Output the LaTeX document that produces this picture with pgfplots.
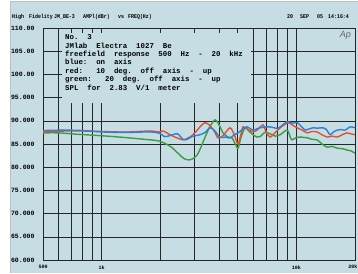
\documentclass[border=0pt]{standalone}
\usepackage{pgfplots}
\pgfplotsset{compat=1.18}
\usepackage{fontspec}
\setmainfont{Liberation Sans}
\newfontfamily\apmono{Liberation Mono}
\newfontfamily\apnarrow[FakeStretch=0.85]{Liberation Mono}
\definecolor{panel}{RGB}{198,221,228}
\definecolor{cblue}{RGB}{45,128,210}
\definecolor{cred}{RGB}{232,78,48}
\definecolor{cgreen}{RGB}{58,158,68}
\begin{document}
\begin{tikzpicture}[x=1pt,y=1pt]
\useasboundingbox (0,0) rectangle (358,273);
\fill[white] (0,0) rectangle (358,273);
\fill[panel] (10,0) rectangle (358,272);
\draw[black!25, line width=0.4pt] (10,0) -- (10,272) -- (358,272);
\begin{axis}[
  at={(43pt,13pt)}, anchor=south west,
  scale only axis, width=312pt, height=232pt,
  xmode=log, xmin=500, xmax=20000, ymin=60, ymax=110,
  ytick={60,65,70,75,80,85,90,95,100,105,110},
  yticklabels={60.000,65.000,70.000,75.000,80.000,85.000,90.000,95.000,100.00,105.00,110.00},
  xtick={600,700,800,900,1000,2000,3000,4000,5000,6000,7000,8000,9000,10000},
  xticklabels={,,,,1k,,,,,,,,,10k},
  extra x ticks={500},
  extra x tick labels={500},
  extra x tick style={grid=none},
  minor xtick={},
  grid=major,
  major grid style={black!85, line width=0.55pt},
  axis line style={black!85, line width=0.6pt},
  tick style={draw=none},
  yticklabel style={font=\apmono\bfseries\fontsize{6.5}{7}\selectfont, anchor=east, xshift=-5pt},
  xticklabel style={font=\apmono\bfseries\fontsize{5}{6}\selectfont, yshift=-2pt},
  every axis plot/.append style={line width=1.4pt, smooth, tension=0.45},
]
\addplot[cgreen] coordinates {
(500,87.4) (600,87.4) (750,87.1) (900,86.9) (1150,86.6) (1400,86.3) (1770,85.9) (1990,85.6)
(2250,84.5) (2440,83.2) (2620,82.0) (2750,81.6) (2900,81.7) (3090,82.6) (3250,84.5) (3400,86.5)
(3600,88.8) (3820,90.2) (4000,89.2) (4200,87.4) (4450,86.5) (4680,86.3) (4850,85.0) (5020,84.1)
(5200,86.5) (5450,88.5) (5700,87.8) (5990,87.0) (6280,86.5) (6510,86.6) (6900,87.5) (7330,87.2)
(7800,86.7) (8250,87.0) (8960,88.0) (9300,86.5) (9500,85.9) (10000,86.4) (10450,86.5) (11480,86.3)
(12000,86.0) (12770,85.9) (13550,85.0) (14380,84.3) (15200,84.5) (16180,84.1) (17200,84.0)
(18200,83.7) (19100,83.5) (20000,83.0)};
\addplot[cred] coordinates {
(500,87.6) (650,87.8) (800,87.8) (1000,87.7) (1200,87.6) (1400,87.6) (1770,87.8) (1990,87.6)
(2070,87.8) (2245,87.0) (2440,86.3) (2620,85.9) (2750,86.2) (2910,86.8) (3100,88.0) (3250,89.0)
(3400,89.6) (3600,89.0) (3820,87.5) (3960,86.3) (4200,86.8) (4560,88.5) (4800,87.0) (5000,85.0)
(5150,86.5) (5320,88.7) (5600,88.2) (5990,87.6) (6280,88.0) (6740,89.1) (7000,87.5) (7330,86.5)
(7800,87.5) (8250,88.5) (9070,89.6) (9600,89.0) (10100,88.5) (10700,88.0) (11350,87.4) (12000,87.7)
(12770,87.6) (13500,87.0) (14400,86.5) (15300,86.7) (16200,86.5) (17200,87.0) (18200,87.4)
(19000,87.2) (20000,87.0)};
\addplot[cblue] coordinates {
(500,87.9) (650,88.0) (800,87.9) (1000,87.6) (1200,87.5) (1400,87.5) (1770,87.6) (1990,87.3)
(2100,86.6) (2245,86.8) (2450,87.2) (2620,86.0) (2750,86.0) (2910,86.6) (3200,87.0) (3400,87.5)
(3600,88.5) (3820,87.8) (4050,86.4) (4300,86.5) (4560,86.3) (4800,87.0) (5020,87.4) (5300,88.2)
(5580,88.7) (5990,88.0) (6510,88.5) (7330,88.7) (8050,88.4) (8950,89.8) (9500,89.5) (10100,89.6)
(10600,88.8) (11100,88.0) (11700,88.3) (12200,88.5) (12800,88.4) (13550,88.5) (14200,88.2)
(14900,87.0) (15500,87.6) (16200,88.0) (17000,88.1) (17800,88.0) (18900,88.7) (20000,88.5)};
\end{axis}
% 20k label kept inside the page
\node[anchor=north east, inner sep=0pt, font=\apmono\bfseries\fontsize{5}{6}\selectfont] at (357.5,8.5) {20k};
% note box
\fill[panel] (62,170) rectangle (251,240);
\node[anchor=north west, inner sep=0pt, align=left,
  font=\apmono\bfseries\fontsize{7.4}{8.4}\selectfont\frenchspacing] at (65,238.5)
 {No.~~3\\
  JMlab~~Electra~~1027~~Be\\
  freefield~~response~~500~~Hz~~-~~20~~kHz\\
  blue:~~on~~axis\\
  red:~~~10~~deg.~~off~~axis~~-~~up\\
  green:~~~20~~deg.~~off~~axis~~-~~up\\
  SPL~~for~~2.83~~V/1~~meter};
% header
\begingroup
\tikzset{every node/.style={anchor=base west, inner sep=0pt, font=\apnarrow\bfseries\fontsize{5.8}{6}\selectfont}}
\node at (12,254) {High};
\node at (29,254) {Fidelity};
\node at (54,254) {JM\_BE-3};
\node at (83,254) {AMPl(dBr)};
\node at (118,254) {vs};
\node at (128,254) {FREQ(Hz)};
\node at (287,254) {20};
\node at (300,254) {SEP};
\node at (317,254) {05};
\node at (328,254) {14:16:4};
\endgroup
\node[anchor=base east, inner sep=0pt, text=black!60, font=\itshape\fontsize{9}{9}\selectfont] at (351,235) {Ap};
\end{tikzpicture}
\end{document}
